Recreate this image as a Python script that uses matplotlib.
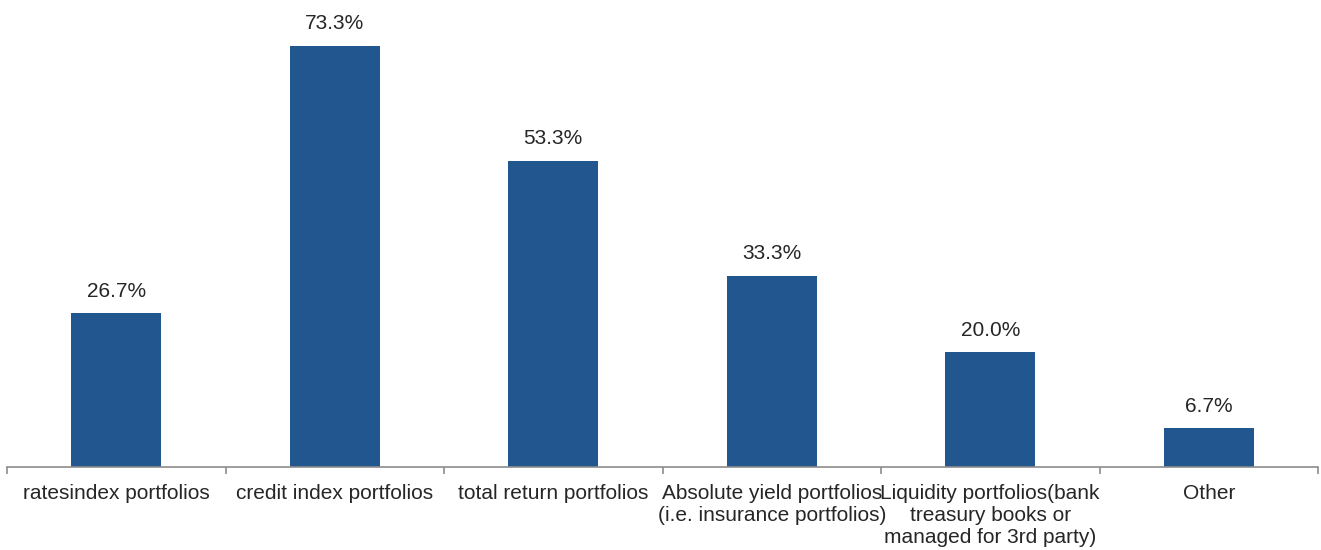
import matplotlib.pyplot as plt
import numpy as np

categories = [
    "ratesindex portfolios",
    "credit index portfolios",
    "total return portfolios",
    "Absolute yield portfolios\n(i.e. insurance portfolios)",
    "Liquidity portfolios(bank\ntreasury books or\nmanaged for 3rd party)",
    "Other",
]
values = [26.7, 73.3, 53.3, 33.3, 20.0, 6.7]
value_labels = ["26.7%", "73.3%", "53.3%", "33.3%", "20.0%", "6.7%"]

plt.rcParams['font.family'] = ['Liberation Sans', 'DejaVu Sans']

fig = plt.figure(figsize=(13.21, 5.50), dpi=100)
ax = fig.add_axes([7 / 1321, 1 - 467 / 550, (1318 - 7) / 1321, 460 / 550])

x = np.arange(len(categories))
bars = ax.bar(x, values, width=0.41, color='#21568F', zorder=2)

for rect, lab in zip(bars, value_labels):
    ax.annotate(lab, (rect.get_x() + rect.get_width() / 2, rect.get_height()),
                xytext=(0, 9), textcoords='offset points',
                ha='center', va='bottom', fontsize=15, color='#262626')

ax.set_xlim(-0.5, len(categories) - 0.5)
ax.set_ylim(0, 80)

for s in ['top', 'right', 'left']:
    ax.spines[s].set_visible(False)
ax.spines['bottom'].set_color('#8C8C8C')
ax.spines['bottom'].set_linewidth(1.2)

ax.set_yticks([])
ax.set_xticks(x)
ax.set_xticklabels(categories, fontsize=15, color='#262626', linespacing=1.22)
ax.tick_params(axis='x', which='major', length=0, pad=12)
ax.set_xticks(np.arange(-0.5, len(categories)), minor=True)
ax.tick_params(axis='x', which='minor', length=5, width=1.2, color='#8C8C8C')

fig.savefig('out.png', dpi=100)
